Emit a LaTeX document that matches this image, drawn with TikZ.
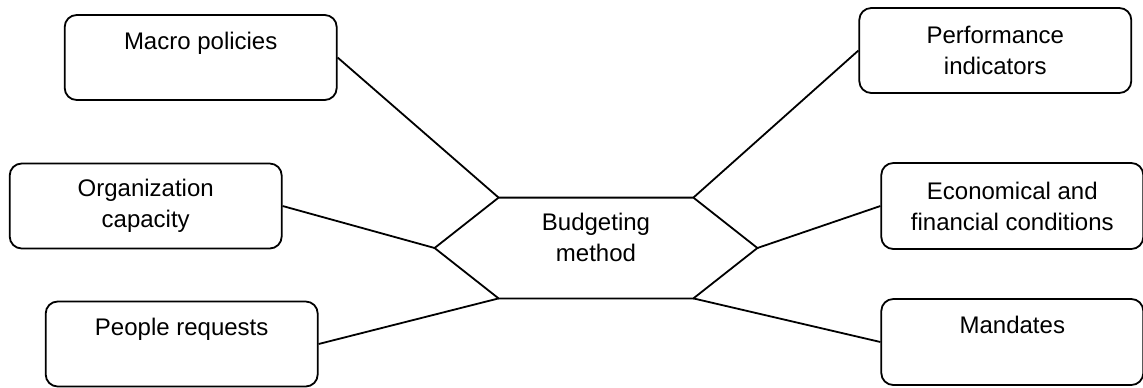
\documentclass[tikz,border=0pt]{standalone}
\usepackage{fontspec}
\setmainfont{Liberation Sans}
\usepackage{tikz}
\usetikzlibrary{positioning}

\begin{document}
\begin{tikzpicture}[
factor/.style={rectangle, draw=black, line width=0.9pt, minimum width=136pt, minimum height=42.5pt, inner sep=2pt, align=center, rounded corners=6pt, font=\fontsize{12}{15.5}\selectfont},
narrow/.style={minimum width=131pt, minimum height=43pt},
oneline/.style={text depth=17pt},
method/.style={rectangle, minimum width=161pt, minimum height=50pt, inner sep=0pt, align=center, text depth=11pt, font=\fontsize{12}{15.5}\selectfont},
link/.style={line width=0.9pt}
]
	\useasboundingbox (-298pt,124pt) rectangle (273.5pt,-69.5pt);
	\node[method] (hub) at (0,0) {Budgeting\\method};
	\coordinate (hubnw) at ([xshift=32pt]hub.north west);
	\coordinate (hubne) at ([xshift=-32pt]hub.north east);
	\coordinate (hubsw) at ([xshift=32pt]hub.south west);
	\coordinate (hubse) at ([xshift=-32pt]hub.south east);
	\draw[link] (hub.west) -- (hubnw) -- (hubne) -- (hub.east) -- (hubse) -- (hubsw) -- cycle;
	\node[factor, oneline, anchor=east, shift={(-48.5pt,95.25pt)}] (macro) at (hub.west) {Macro policies};
	\node[factor, anchor=east, shift={(-76pt,21pt)}] (capacity) at (hub.west) {Organization\\capacity};
	\node[factor, oneline, anchor=east, shift={(-58pt,-48pt)}] (people) at (hub.west) {People requests};
	\node[factor, anchor=west, shift={(50.5pt,98.75pt)}] (perf) at (hub.east) {Performance\\indicators};
	\node[factor, narrow, anchor=west, shift={(61.5pt,21pt)}] (econ) at (hub.east) {Economical and\\financial conditions};
	\node[factor, narrow, oneline, anchor=west, shift={(61.5pt,-47pt)}] (mandates) at (hub.east) {Mandates};
	\draw[link] (macro.east) -- (hubnw);
	\draw[link] (capacity.east) -- (hub.west);
	\draw[link] (people.east) -- (hubsw);
	\draw[link] (perf.west) -- (hubne);
	\draw[link] (econ.west) -- (hub.east);
	\draw[link] (mandates.west) -- (hubse);
\end{tikzpicture}
\end{document}
